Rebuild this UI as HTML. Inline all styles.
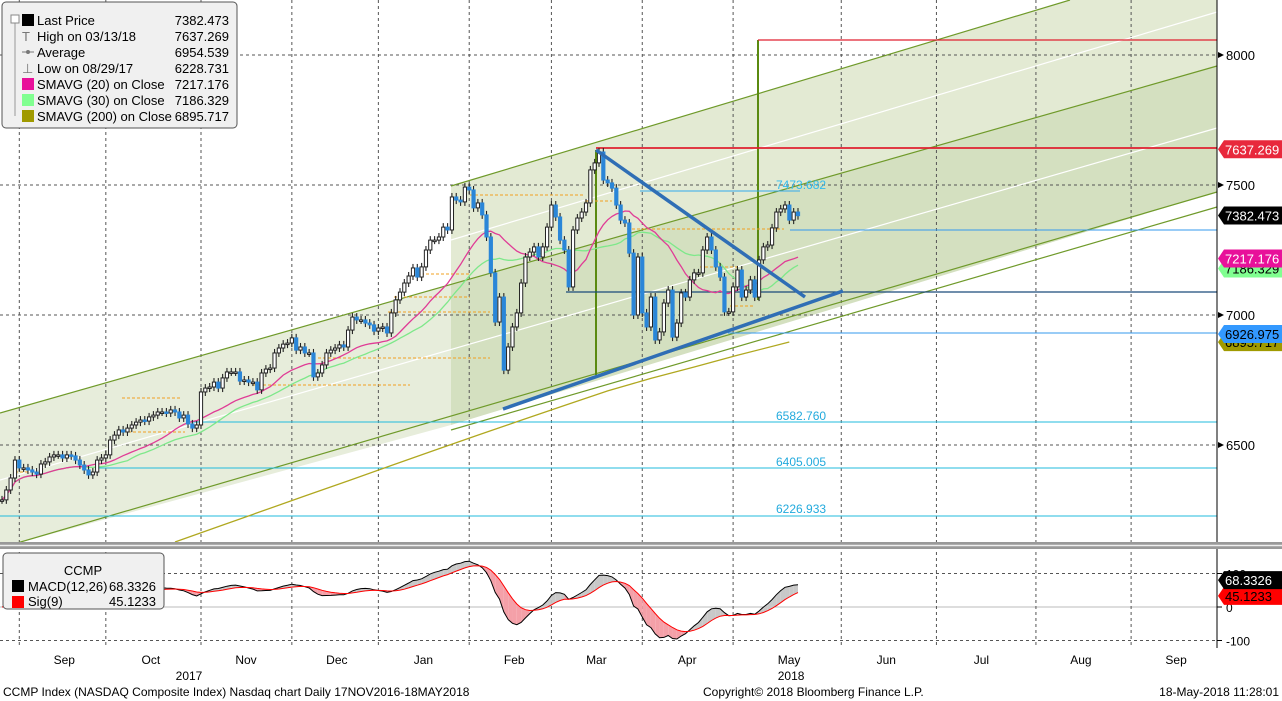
<!DOCTYPE html>
<html><head><meta charset="utf-8"><style>
html,body{margin:0;padding:0;background:#fff;}
svg{display:block;font-family:"Liberation Sans",sans-serif;}
</style></head><body>
<svg id="c" width="1282" height="701" viewBox="0 0 1282 701" xmlns="http://www.w3.org/2000/svg">
<g id="bg">
 <polygon points="0,413 451,284 451,425 0,548" fill="#e7eddb"/>
 <polygon points="451,186 1070,0 1217,0 1217,66 451,284" fill="#e3ead3"/>
 <polygon points="451,284 1217,66 1217,192 451,425" fill="#d4e0c0"/>
</g>
<g id="grid"></g>
<g id="lines">
 <line x1="0" y1="480" x2="1217" y2="128" stroke="#fff" stroke-width="1.2"/>
 <line x1="451" y1="240" x2="1217" y2="12" stroke="#fff" stroke-width="1.2"/>
 <line x1="451" y1="186" x2="1070" y2="0" stroke="#6f9a2a" stroke-width="1.2"/>
 <line x1="0" y1="413" x2="1217" y2="66" stroke="#6f9a2a" stroke-width="1.2"/>
 <line x1="0" y1="548" x2="1217" y2="192" stroke="#6f9a2a" stroke-width="1.2"/>
 <line x1="451" y1="430" x2="1217" y2="207" stroke="#6f9a2a" stroke-width="1.2"/>
 <line x1="596" y1="150" x2="596" y2="375" stroke="#5a8a10" stroke-width="2"/>
 <line x1="758" y1="40" x2="758" y2="300" stroke="#5a8a10" stroke-width="2"/>
 <line x1="758" y1="40" x2="1217" y2="40" stroke="#e02030" stroke-width="1.2"/>
 <line x1="596" y1="148" x2="1217" y2="148" stroke="#e02030" stroke-width="1.8"/>
 <line x1="566" y1="292" x2="1217" y2="292" stroke="#1a4a7a" stroke-width="1.2"/>
 <line x1="640" y1="191" x2="800" y2="191" stroke="#33aaee" stroke-width="1"/>
 <line x1="790" y1="230" x2="1217" y2="230" stroke="#3399ee" stroke-width="1"/>
 <line x1="728" y1="333" x2="1217" y2="333" stroke="#3399ee" stroke-width="1"/>
 <line x1="190" y1="422" x2="1217" y2="422" stroke="#22bbdd" stroke-width="1"/>
 <line x1="95" y1="468" x2="1217" y2="468" stroke="#22bbdd" stroke-width="1"/>
 <line x1="0" y1="516" x2="1217" y2="516" stroke="#22bbdd" stroke-width="1"/>
 <g stroke="#f0a020" stroke-width="1" stroke-dasharray="3,2">
  <line x1="416" y1="274" x2="470" y2="274"/><line x1="394" y1="297" x2="470" y2="297"/>
  <line x1="388" y1="312" x2="490" y2="312"/><line x1="318" y1="358" x2="490" y2="358"/>
  <line x1="253" y1="385" x2="410" y2="385"/><line x1="470" y1="195" x2="585" y2="195"/>
  <line x1="585" y1="201" x2="612" y2="201"/><line x1="627" y1="229" x2="784" y2="229"/>
  <line x1="700" y1="267" x2="740" y2="267"/><line x1="730" y1="306" x2="755" y2="306"/>
  <line x1="118" y1="432" x2="185" y2="432"/><line x1="15" y1="472" x2="30" y2="472"/>
  <line x1="122" y1="398" x2="182" y2="398"/>
 </g>
 <text x="776" y="189" font-size="12" fill="#33bbee">7473.682</text>
 <text x="776" y="420" font-size="12" fill="#22aadd">6582.760</text>
 <text x="776" y="466" font-size="12" fill="#22aadd">6405.005</text>
 <text x="776" y="513" font-size="12" fill="#22aadd">6226.933</text>
</g>
<g id="series"></g>
<g id="tri">
 <line x1="596" y1="150" x2="805" y2="297" stroke="#2f6eb5" stroke-width="3.5"/>
 <line x1="503" y1="409" x2="843" y2="291" stroke="#2f6eb5" stroke-width="3.5"/>
</g>
<g id="macd"></g>
<g id="axis"></g>
<rect x="0" y="542" width="1282" height="7" fill="#999"/>
<line x1="0" y1="545.5" x2="1282" y2="545.5" stroke="#eee" stroke-width="1.5"/>
<g id="legend" font-size="13">
 <rect x="2" y="2" width="235" height="126" rx="4" fill="#f0f0f0" stroke="#555"/>
 <line x1="15" y1="22" x2="15" y2="116" stroke="#999"/>
 <rect x="11" y="15" width="8" height="8" fill="#fff" stroke="#888"/>
 <rect x="22" y="14" width="12" height="12" fill="#000"/><text x="37" y="25">Last Price</text><text x="229" y="25" text-anchor="end">7382.473</text>
 <text x="22" y="41" fill="#777">T</text><text x="37" y="41">High on 03/13/18</text><text x="229" y="41" text-anchor="end">7637.269</text>
 <line x1="22" y1="52" x2="34" y2="52" stroke="#777"/><circle cx="28" cy="52" r="2" fill="#777"/><text x="37" y="57">Average</text><text x="229" y="57" text-anchor="end">6954.539</text>
 <text x="22" y="73" fill="#777">⊥</text><text x="37" y="73">Low on 08/29/17</text><text x="229" y="73" text-anchor="end">6228.731</text>
 <rect x="22" y="78" width="12" height="12" fill="#e8109a"/><text x="37" y="89">SMAVG (20) on Close</text><text x="229" y="89" text-anchor="end">7217.176</text>
 <rect x="22" y="94" width="12" height="12" fill="#80ff90"/><text x="37" y="105">SMAVG (30) on Close</text><text x="229" y="105" text-anchor="end">7186.329</text>
 <rect x="22" y="110" width="12" height="12" fill="#a09a00"/><text x="37" y="121">SMAVG (200) on Close</text><text x="229" y="121" text-anchor="end">6895.717</text>
</g>
<g id="macdleg" font-size="13">
 <rect x="3" y="553" width="161" height="56" rx="4" fill="#f0f0f0" stroke="#555"/>
 <text x="83" y="575" text-anchor="middle">CCMP</text>
 <rect x="12" y="580" width="12" height="12" fill="#000"/><text x="28" y="591">MACD(12,26)</text><text x="156" y="591" text-anchor="end">68.3326</text>
 <rect x="12" y="596" width="12" height="12" fill="#f00"/><text x="28" y="606">Sig(9)</text><text x="156" y="606" text-anchor="end">45.1233</text>
</g>
<g id="xaxis" font-size="12"></g>
<g font-size="12">
 <text x="3" y="696">CCMP Index (NASDAQ Composite Index) Nasdaq chart  Daily 17NOV2016-18MAY2018</text>
 <text x="703" y="696">Copyright© 2018 Bloomberg Finance L.P.</text>
 <text x="1279" y="696" text-anchor="end">18-May-2018 11:28:01</text>
</g>
</svg>
<script>
const closes = [6289,6327,6373,6442,6412,6412,6404,6396,6388,6427,6435,6454,6462,6462,6450,6462,6458,6442,6423,6404,6385,6396,6442,6450,6462,6519,6538,6558,6550,6565,6577,6588,6596,6592,6608,6615,6627,6627,6623,6635,6627,6604,6615,6581,6565,6577,
6704,6719,6723,6742,6719,6758,6781,6781,6781,6746,6750,6742,6742,6712,6777,6792,6796,6854,6873,6888,6892,6912,6865,6877,6854,6854,6762,6777,6808,6854,6865,6873,6885,6877,6942,6992,6981,6981,6969,6962,6938,6950,6954,6931,7008,7058,7088,7123,7150,7181,7146,7185,7250,7288,7288,7300,7338,7327,7454,7442,7435,7492,7481,7412,7431,7385,7300,7162,6973,7069,6788,6877,6954,7008,7123,7223,7242,7262,7223,7262,7338,7423,7377,7288,7250,7108,7327,7373,7396,7431,7558,7585,7627,7519,7508,7488,7423,7365,7354,7238,7000,7223,7008,6954,7069,6904,6935,7046,7096,6915,6969,7085,7069,7135,7162,7162,7250,7300,7250,7185,7146,7012,7012,7108,7173,7069,7096,7135,7069,7212,7262,7269,7335,7396,7408,7423,7365,7396,7382];
const sma200Idx = [40,50,60,70,80,90,100,110,120,130,140,150,160,170,182];
const sma200Val = [6127,6186,6245,6304,6362,6421,6480,6538,6595,6652,6708,6756,6800,6845,6896];
const priceTicks = [8000,7500,7000,6500];
const macdTicks = [100,0,-100];
const monthLabels = ["Sep","Oct","Nov","Dec","Jan","Feb","Mar","Apr","May","Jun","Jul","Aug","Sep"];
const monthStartIdx = [4,24,46,67,87,108,127,148,169,194,216,239,261];
const tagVals = [7637.269,7382.473,7186.329,7217.176,6895.717,6926.975];
const tagCols = ["#e8283c","#000","#80ff90","#e8109a","#a09a00","#3399ff"];
const tagTxt = ["#fff","#fff","#000","#fff","#000","#000"];

const NS="http://www.w3.org/2000/svg";
const N=closes.length;
const X=i=>2+i*(796/(N-1));
const Y=p=>315-(p-7000)*0.26;
const MY=m=>607-m*0.335;
function mk(tag,parent,attrs){const e=document.createElementNS(NS,tag);for(const k in attrs)e.setAttribute(k,attrs[k]);document.getElementById(parent).appendChild(e);return e;}

priceTicks.forEach(p=>{const l=mk('line','grid',{x1:0,x2:1217,y1:Y(p),y2:Y(p),stroke:'#555','stroke-dasharray':'3,3'});

});
macdTicks.forEach(m=>{const l=mk('line','grid',{x1:0,x2:1217,y1:MY(m),y2:MY(m),stroke:m===0?'#bbb':'#555','stroke-dasharray':m===0?'':'3,3'});

});
monthStartIdx.forEach(i=>{const x=X(i);const l=mk('line','grid',{x1:x,x2:x,y1:0,y2:648,stroke:'#555','stroke-dasharray':'3,3'});

});

function sma(n){return closes.map((c,i)=>{const s=closes.slice(Math.max(0,i-n+1),i+1);return s.reduce((a,b)=>a+b,0)/s.length;});}
const s20=sma(20),s30=sma(30);
function pathFrom(vals,fy,start){return vals.map((v,i)=>(i===0?'M':'L')+X(i+(start||0)).toFixed(1)+','+fy(v).toFixed(1)).join('');}
const p30=mk('path','series',{d:pathFrom(s30,Y),fill:'none',stroke:'#7ee88a','stroke-width':1.3});


const p20=mk('path','series',{d:pathFrom(s20,Y),fill:'none',stroke:'#e03c96','stroke-width':1.3});


const p200=mk('path','series',{d:sma200Idx.map((ix,k)=>(k?'L':'M')+X(ix).toFixed(1)+','+Y(sma200Val[k]).toFixed(1)).join(''),fill:'none',stroke:'#b0a820','stroke-width':1.3});



closes.forEach((c,i)=>{const o=i?closes[i-1]:c;const up=c>=o;const x=X(i);
 const top=Math.min(Y(o),Y(c)),bot=Math.max(Y(o),Y(c));
 const w=mk('line','series',{x1:x,x2:x,y1:top-4,y2:bot+4,stroke:'#222','stroke-width':1.1});
 
 
 const b=mk('rect','series',{x:x-1.6,y:top,width:3.2,height:Math.max(1.5,bot-top),fill:up?'#fff':'#2a86d8',stroke:up?'#222':'#2a86d8','stroke-width':1});
 
 });

function ema(arr,n){const k=2/(n+1);let e=arr[0];return arr.map(v=>(e=v*k+e*(1-k)));}
const e12=ema(closes,12),e26=ema(closes,26);
const macd=e12.map((v,i)=>v-e26[i]);
const sig=ema(macd,9);
for(let i=1;i<N;i++){const q=mk('polygon','macd',{points:`${X(i-1)},${MY(macd[i-1])} ${X(i)},${MY(macd[i])} ${X(i)},${MY(sig[i])} ${X(i-1)},${MY(sig[i-1])}`,fill:macd[i]>=sig[i]?'#c8c8c8':'#f4a0a8',stroke:'none'});

}
const ml=mk('path','macd',{d:pathFrom(macd,MY),fill:'none',stroke:'#000','stroke-width':1});


const sl=mk('path','macd',{d:pathFrom(sig,MY),fill:'none',stroke:'#f00','stroke-width':1});



const ax=mk('line','axis',{x1:1217,x2:1217,y1:0,y2:648,stroke:'#000','stroke-width':1});


priceTicks.forEach(p=>{const y=Y(p);mk('polygon','axis',{points:`1218,${y-3} 1224,${y} 1218,${y+3}`,fill:'#000'});
 const t=mk('text','axis',{x:1226,y:y+5,'font-size':13});t.textContent=p;
 
 });
macdTicks.forEach(m=>{const y=MY(m);mk('line','axis',{x1:1217,x2:1222,y1:y,y2:y,stroke:'#000'});
 const t=mk('text','axis',{x:1226,y:y+5,'font-size':12});t.textContent=m;
 
 });
function tag(val,y,col,txt,dec){const g=mk('g','axis',{});
 
 
 const p=document.createElementNS(NS,'polygon');p.setAttribute('points',`1218,${y} 1224,${y-9} 1282,${y-9} 1282,${y+9} 1224,${y+9}`);p.setAttribute('fill',col);g.appendChild(p);
 const t=document.createElementNS(NS,'text');t.setAttribute('x',1225);t.setAttribute('y',y+5);t.setAttribute('font-size',13);t.setAttribute('fill',txt);t.textContent=val.toFixed(dec);g.appendChild(t);}
tagVals.forEach((v,k)=>{let y=Y(v);if(k===2)y+=2;tag(v,y,tagCols[k],tagTxt[k],3);});
tag(45.1233,MY(45.1233)+4,'#f00','#000',4);
tag(68.3326,MY(68.3326)-4,'#000','#fff',4);

monthStartIdx.forEach((ix,k)=>{const t=mk('text','xaxis',{x:X(ix)+(k===8?56:45),y:664,'text-anchor':'middle'});t.textContent=monthLabels[k];
 
 });
[["2017",X(46)-12],["2018",X(169)+58]].forEach(a=>{const t=mk('text','xaxis',{x:a[1],y:680,'text-anchor':'middle'});t.textContent=a[0];
 
 });
</script>
</body></html>
